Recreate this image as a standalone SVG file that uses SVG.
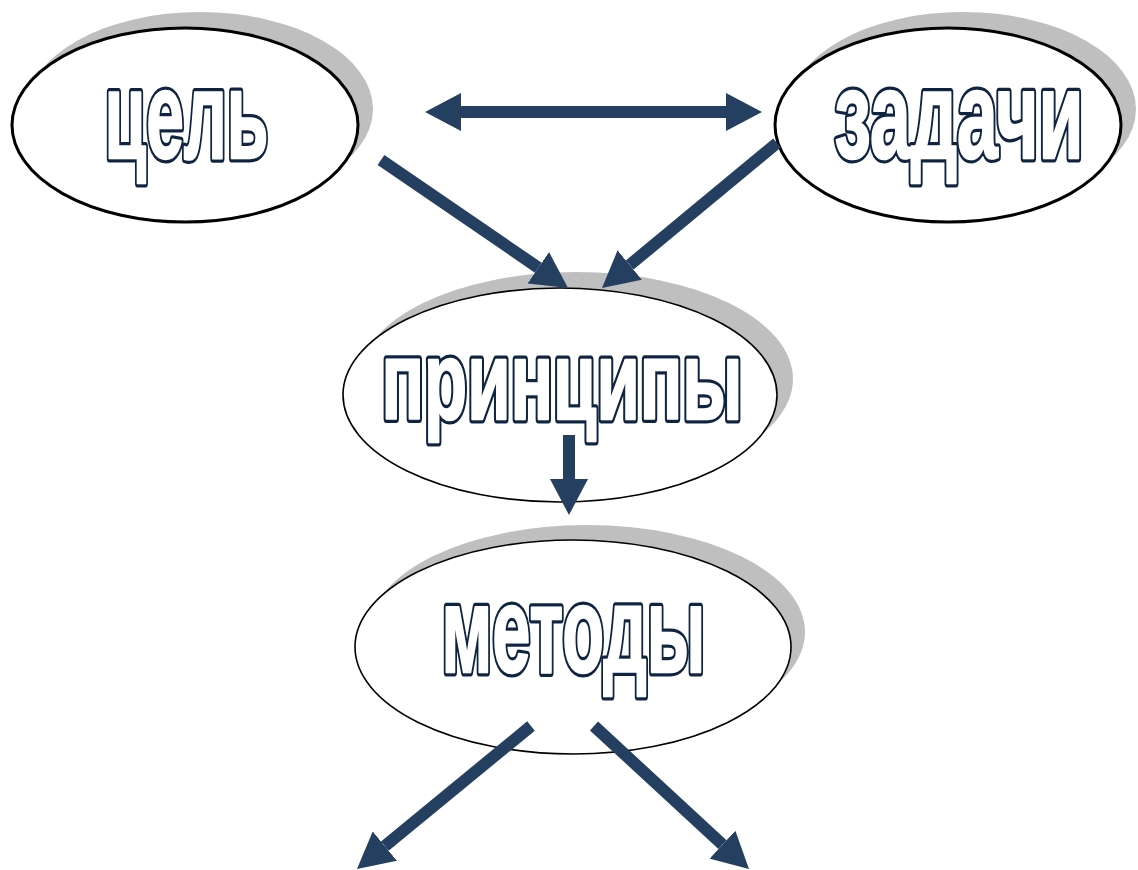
<svg xmlns="http://www.w3.org/2000/svg" width="1138" height="870" viewBox="0 0 1138 870">
<style>
.shadow{fill:#bfbfbf;stroke:none}
.oval{fill:#ffffff;stroke:#000000}
.thick{stroke-width:3}
.thin{stroke-width:1.6}
.lbl{font-family:"Liberation Sans","DejaVu Sans",Arial,sans-serif;font-weight:bold;stroke-linejoin:round}
.lbl-o{fill:#0f2440;stroke:#0f2440;stroke-width:9}
.lbl-i{fill:#ffffff;stroke:#ffffff;stroke-width:2.5}
.conn{stroke:#243f60;stroke-width:12;fill:none;stroke-linecap:butt}
</style>
<defs>
<marker id="head" viewBox="0 0 36 38" markerUnits="userSpaceOnUse" markerWidth="36" markerHeight="38" refX="0" refY="19" orient="auto-start-reverse">
<path d="M0,0 L36,19 L0,38 Z" fill="#243f60"/>
</marker>
</defs>
<rect width="1138" height="870" fill="#ffffff"/>
<g id="node-cel">
<ellipse class="shadow" cx="200" cy="109" rx="173" ry="97"/>
<ellipse class="oval thick" cx="185" cy="125" rx="173" ry="97"/>
<text class="lbl lbl-o" x="104.5" y="157.5" font-size="125" textLength="164" lengthAdjust="spacingAndGlyphs">цель</text>
<text class="lbl lbl-i" x="104.5" y="157.5" font-size="125" textLength="164" lengthAdjust="spacingAndGlyphs">цель</text>
</g>
<g id="node-zadachi">
<ellipse class="shadow" cx="963" cy="109" rx="173" ry="97"/>
<ellipse class="oval thick" cx="948" cy="125" rx="173" ry="97"/>
<text class="lbl lbl-o" x="834.5" y="157.5" font-size="125" textLength="249" lengthAdjust="spacingAndGlyphs">задачи</text>
<text class="lbl lbl-i" x="834.5" y="157.5" font-size="125" textLength="249" lengthAdjust="spacingAndGlyphs">задачи</text>
</g>
<g id="node-principy">
<ellipse class="shadow" cx="576" cy="379" rx="217" ry="107"/>
<ellipse class="oval thin" cx="560" cy="395" rx="217" ry="107"/>
<text class="lbl lbl-o" x="381.5" y="418.5" font-size="112" textLength="361" lengthAdjust="spacingAndGlyphs">принципы</text>
<text class="lbl lbl-i" x="381.5" y="418.5" font-size="112" textLength="361" lengthAdjust="spacingAndGlyphs">принципы</text>
</g>
<g id="node-metody">
<ellipse class="shadow" cx="587" cy="632" rx="218" ry="107"/>
<ellipse class="oval thin" cx="573" cy="647" rx="218" ry="107"/>
<text class="lbl lbl-o" x="441.5" y="671.5" font-size="123" textLength="264" lengthAdjust="spacingAndGlyphs">методы</text>
<text class="lbl lbl-i" x="441.5" y="671.5" font-size="123" textLength="264" lengthAdjust="spacingAndGlyphs">методы</text>
</g>
<g id="connectors">
<line class="conn" x1="461" y1="112" x2="726" y2="112" marker-start="url(#head)" marker-end="url(#head)"/>
<line class="conn" x1="381" y1="160" x2="538.3" y2="267.7" marker-end="url(#head)"/>
<line class="conn" x1="777" y1="143" x2="629.7" y2="265" marker-end="url(#head)"/>
<line class="conn" x1="569" y1="435" x2="569" y2="479" marker-end="url(#head)"/>
<line class="conn" x1="531" y1="726" x2="384.8" y2="846.1" marker-end="url(#head)"/>
<line class="conn" x1="594" y1="726" x2="722.5" y2="844.6" marker-end="url(#head)"/>
</g>
</svg>
